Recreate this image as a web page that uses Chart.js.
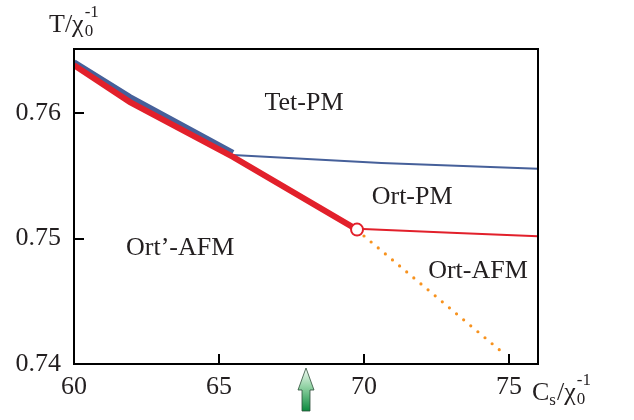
<!DOCTYPE html>
<html>
<head>
<meta charset="utf-8">
<script src="https://cdn.jsdelivr.net/npm/chart.js@4/dist/chart.umd.min.js"></script>
<style>
html,body{margin:0;padding:0;background:#fff;}
#wrap{width:634px;height:420px;position:relative;}
</style>
</head>
<body>
<div id="wrap"><canvas id="c" width="634" height="420"></canvas></div>
<script>
// ---- data ----
const xTicks = [60, 65, 70, 75];
const yTicks = [0.74, 0.75, 0.76];

const tetBoundaryThickX = [60, 61.93, 65.48];
const tetBoundaryThickY = [0.76405, 0.76127, 0.75683];

const tetBoundaryThinX = [65.48, 70.6, 76];
const tetBoundaryThinY = [0.75665, 0.75601, 0.75556];

const afmBoundaryThickX = [60, 61.93, 65.48, 69.76];
const afmBoundaryThickY = [0.76381, 0.76087, 0.75651, 0.75071];

const ortBoundaryThinX = [69.76, 73, 76];
const ortBoundaryThinY = [0.75077, 0.75046, 0.75018];

const dottedX = [70.0, 74.76];
const dottedY = [0.75020, 0.74095];

const criticalX = [69.76];
const criticalY = [0.75071];

const arrowX = 68;

const regionLabels = ["Tet-PM", "Ort-PM", "Ort\u2019-AFM", "Ort-AFM"];
const regionLabelX = [67.93, 71.66, 63.66, 73.93];
const regionLabelY = [0.7608, 0.7533, 0.7492, 0.7474];

const zip = (xs, ys) => xs.map((x, i) => ({x: x, y: ys[i]}));

const TXT = '#231f20';
const SERIF = '"Liberation Serif", "DejaVu Serif", serif';

const decorPlugin = {
  id: 'decor',
  afterDatasetsDraw(chart) {
    const ctx = chart.ctx;
    const a = chart.chartArea;
    const xs = chart.scales.x, ys = chart.scales.y;
    ctx.save();
    // frame
    ctx.strokeStyle = '#000';
    ctx.lineWidth = 2;
    ctx.strokeRect(a.left, a.top, a.right - a.left, a.bottom - a.top);
    // inward ticks
    ctx.beginPath();
    xTicks.forEach(v => {
      if (v === xs.min) return;
      const px = Math.round(xs.getPixelForValue(v));
      ctx.moveTo(px, a.bottom);
      ctx.lineTo(px, a.bottom - 10);
    });
    yTicks.forEach(v => {
      if (Math.abs(v - ys.min) < 1e-9) return;
      const py = Math.round(ys.getPixelForValue(v));
      ctx.moveTo(a.left, py);
      ctx.lineTo(a.left + 10, py);
    });
    ctx.stroke();
    // region labels
    ctx.fillStyle = TXT;
    ctx.font = '26px ' + SERIF;
    ctx.textAlign = 'center';
    ctx.textBaseline = 'middle';
    regionLabels.forEach((t, i) => {
      ctx.fillText(t, xs.getPixelForValue(regionLabelX[i]), ys.getPixelForValue(regionLabelY[i]));
    });
    ctx.restore();
  },
  afterDraw(chart) {
    const ctx = chart.ctx;
    const xs = chart.scales.x;
    ctx.save();
    ctx.fillStyle = TXT;
    ctx.textAlign = 'left';
    ctx.textBaseline = 'alphabetic';
    const big = '26px ' + SERIF, small = '17px ' + SERIF;
    // y-axis title: T/χ0^-1
    let x = 49, base = 32;
    ctx.font = big;
    ctx.fillText('T/\u03C7', x, base);
    x += ctx.measureText('T/\u03C7').width + 1;
    ctx.font = small;
    ctx.fillText('-1', x, base - 15);
    ctx.fillText('0', x, base + 4);
    // x-axis title: Cs/χ0^-1
    x = 532; base = 400;
    ctx.font = big;
    ctx.fillText('C', x, base);
    x += ctx.measureText('C').width;
    ctx.font = small;
    ctx.fillText('s', x, base + 5);
    x += ctx.measureText('s').width + 1;
    ctx.font = big;
    ctx.fillText('/\u03C7', x, base);
    x += ctx.measureText('/\u03C7').width + 1;
    ctx.font = small;
    ctx.fillText('-1', x, base - 15);
    ctx.fillText('0', x, base + 4);
    // green arrow
    const cx = xs.getPixelForValue(arrowX);
    const tip = 368, headBase = 390, bottom = 411, hw = 8, sw = 4;
    const g = ctx.createLinearGradient(0, tip, 0, bottom);
    g.addColorStop(0, '#f4fbf5');
    g.addColorStop(0.45, '#8fd1a2');
    g.addColorStop(1, '#0b8a3e');
    ctx.beginPath();
    ctx.moveTo(cx, tip);
    ctx.lineTo(cx + hw, headBase);
    ctx.lineTo(cx + sw, headBase);
    ctx.lineTo(cx + sw, bottom);
    ctx.lineTo(cx - sw, bottom);
    ctx.lineTo(cx - sw, headBase);
    ctx.lineTo(cx - hw, headBase);
    ctx.closePath();
    ctx.fillStyle = g;
    ctx.fill();
    ctx.strokeStyle = '#2f4f3a';
    ctx.lineWidth = 0.8;
    ctx.stroke();
    ctx.restore();
  }
};

const BLUE = '#46609a';
const RED = '#e2202b';
const ORANGE = '#f7921e';

new Chart(document.getElementById('c'), {
  type: 'scatter',
  data: {
    datasets: [
      {data: zip(tetBoundaryThickX, tetBoundaryThickY), showLine: true, borderColor: BLUE, borderWidth: 6, pointRadius: 0, borderCapStyle: 'butt', order: 5},
      {data: zip(tetBoundaryThinX, tetBoundaryThinY), showLine: true, borderColor: BLUE, borderWidth: 2, pointRadius: 0, order: 4},
      {data: zip(ortBoundaryThinX, ortBoundaryThinY), showLine: true, borderColor: RED, borderWidth: 2, pointRadius: 0, order: 3},
      {data: zip(dottedX, dottedY), showLine: true, borderColor: ORANGE, borderWidth: 3.2, borderDash: [0, 9.3], borderCapStyle: 'round', pointRadius: 0, order: 3},
      {data: zip(afmBoundaryThickX, afmBoundaryThickY), showLine: true, borderColor: RED, borderWidth: 6, pointRadius: 0, borderCapStyle: 'butt', order: 2},
      {data: zip(criticalX, criticalY), showLine: false, pointRadius: 6, pointBorderWidth: 2, pointBorderColor: RED, pointBackgroundColor: '#fff', order: 1}
    ]
  },
  options: {
    responsive: false,
    animation: false,
    events: [],
    layout: {padding: {top: 49, right: 96, left: 0, bottom: 0}},
    plugins: {legend: {display: false}, tooltip: {enabled: false}, title: {display: false}},
    scales: {
      x: {
        type: 'linear', min: 60, max: 76,
        afterFit(s) { s.height = 56; },
        grid: {display: false, drawTicks: false},
        border: {display: false},
        ticks: {stepSize: 5, includeBounds: false, padding: 8, color: TXT, font: {family: SERIF, size: 26}, maxRotation: 0,
          callback: v => xTicks.includes(v) ? String(v) : ''}
      },
      y: {
        type: 'linear', min: 0.74, max: 0.7651,
        afterFit(s) { s.width = 74; },
        grid: {display: false, drawTicks: false},
        border: {display: false},
        ticks: {stepSize: 0.01, includeBounds: false, padding: 13, color: TXT, font: {family: SERIF, size: 26},
          callback: v => {
            const m = yTicks.find(t => Math.abs(t - v) < 1e-6);
            return m === undefined ? '' : m.toFixed(2);
          }}
      }
    }
  },
  plugins: [decorPlugin]
});
</script>
</body>
</html>
